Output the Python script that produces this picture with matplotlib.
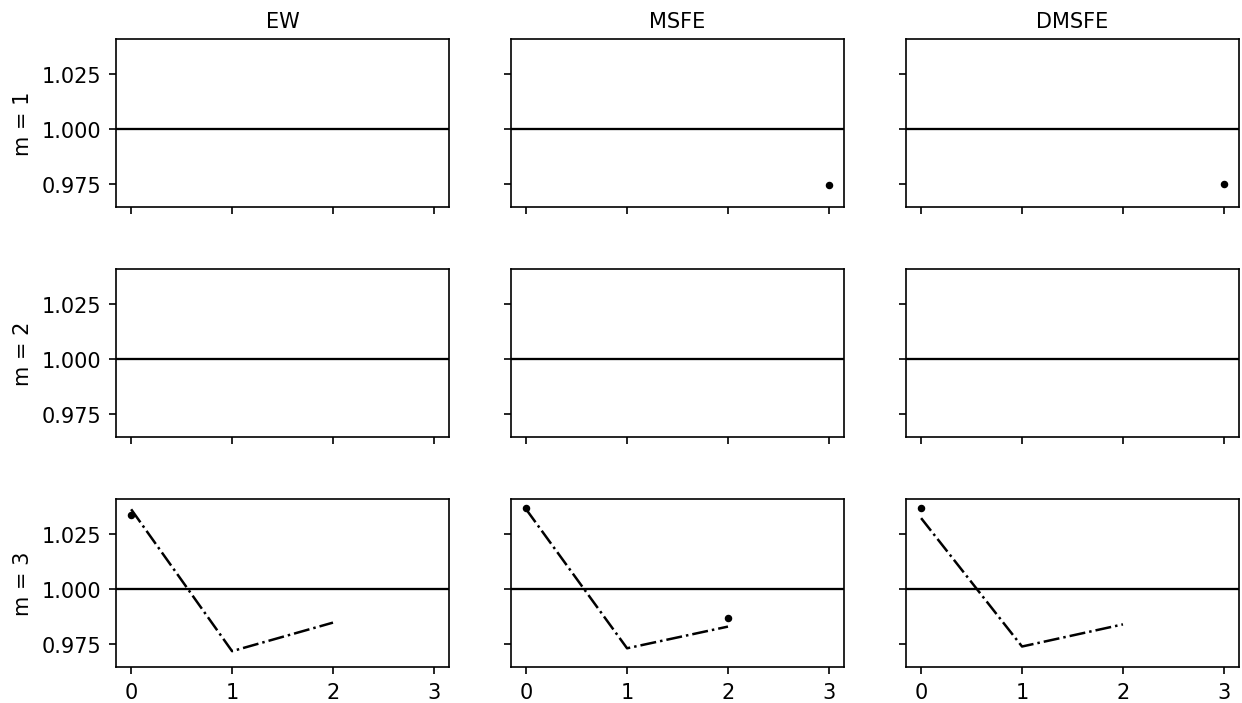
import numpy as np
import matplotlib
matplotlib.use('Agg')
import matplotlib.pyplot as plt

methods = ['EW', 'MSFE', 'DMSFE']
row_labels = ['m = 1', 'm = 2', 'm = 3']
x_line = [0, 1, 2]

# dash-dot series per method (only m = 3 row)
line_m3 = {
    'EW': [1.0360, 0.9719, 0.9848],
    'MSFE': [1.0360, 0.9732, 0.9830],
    'DMSFE': [1.0320, 0.9740, 0.9840],
}
# dots: (row, method) -> (x list, y list)
dots = {
    (0, 'MSFE'): ([3], [0.9747]),
    (0, 'DMSFE'): ([3], [0.9752]),
    (2, 'EW'): ([0], [1.0335]),
    (2, 'MSFE'): ([0, 2], [1.0366, 0.9870]),
    (2, 'DMSFE'): ([0], [1.0366]),
}

fig, axes = plt.subplots(3, 3, sharex=True, sharey=True, figsize=(8.28, 4.6933), dpi=150)
plt.subplots_adjust(left=0.0934, right=0.9976, top=0.943, bottom=0.051, wspace=0.186, hspace=0.369)

for i in range(3):
    for j, name in enumerate(methods):
        ax = axes[i, j]
        ax.axhline(1.0, color='black', lw=1.1)
        if i == 2:
            ax.plot(x_line, line_m3[name], color='black', ls='-.', lw=1.2)
        if (i, name) in dots:
            xs, ys = dots[(i, name)]
            ax.plot(xs, ys, 'o', color='black', ms=2.6)
        if i == 0:
            ax.set_title(name, fontsize=10)
        if j == 0:
            ax.set_ylabel(row_labels[i])

axes[0, 0].set_xlim(-0.15, 3.15)
axes[0, 0].set_xticks([0, 1, 2, 3])
axes[0, 0].set_ylim(0.9647, 1.0406)
axes[0, 0].set_yticks([0.975, 1.0, 1.025])
axes[0, 0].set_yticklabels(['0.975', '1.000', '1.025'])

fig.savefig('out.png', dpi=150)
